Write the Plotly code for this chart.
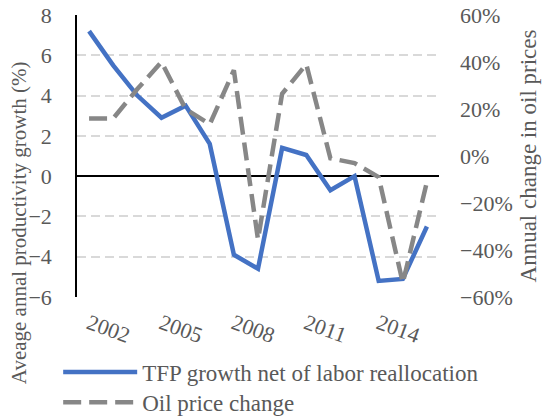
import plotly.graph_objects as go

years = list(range(2002, 2017))
tfp_growth = [7.2, 5.5, 4.0, 2.9, 3.5, 1.6, -3.9, -4.6, 1.4, 1.05, -0.7, 0.0, -5.2, -5.1, -2.5]
oil_change = [0.16, 0.16, 0.285, 0.40, 0.20, 0.135, 0.365, -0.355, 0.265, 0.39, -0.01, -0.03, -0.09, -0.54, -0.11]
tick_years = [2002, 2005, 2008, 2011, 2014]
left_ticks = [-6, -4, -2, 0, 2, 4, 6, 8]
right_ticks = [-0.6, -0.4, -0.2, 0, 0.2, 0.4, 0.6]

FONT = "Liberation Serif"
TXT = "#595959"

fig = go.Figure()
fig.add_trace(go.Scatter(
    x=years, y=tfp_growth, mode="lines", name="TFP growth net of labor reallocation",
    line=dict(color="#4472C4", width=4.5), yaxis="y", legend="legend"))
fig.add_trace(go.Scatter(
    x=years, y=oil_change, mode="lines", name="Oil price change",
    line=dict(color="#878787", width=4.5, dash="18px,8px"), yaxis="y2", legend="legend2"))

legend_common = dict(xanchor="left", font=dict(family=FONT, size=23, color=TXT),
                     itemwidth=74, bgcolor="rgba(0,0,0,0)", borderwidth=0)

fig.update_layout(
    width=548, height=419,
    margin=dict(l=77, r=109, t=15, b=122, autoexpand=False),
    plot_bgcolor="white", paper_bgcolor="white",
    font=dict(family=FONT, color=TXT, size=22),
    showlegend=True,
    legend=dict(x=-0.052, y=-0.19, yanchor="top", **legend_common),
    legend2=dict(x=-0.052, y=-0.45, yanchor="bottom", **legend_common),
    xaxis=dict(range=[2001.5, 2016.5], tickvals=tick_years, ticktext=[str(t) for t in tick_years],
               tickangle=20, showgrid=False, zeroline=False, showline=False, automargin=False,
               tickfont=dict(family=FONT, size=22, color=TXT), ticks="", ticklabelstandoff=9,
               ticklabeloverflow="allow"),
    yaxis=dict(range=[-6, 8], tickvals=left_ticks, showgrid=True, gridcolor="#d9d9d9",
               gridwidth=1.5, griddash="9px,5px", zeroline=True, zerolinecolor="black",
               zerolinewidth=1.5, showline=True, linecolor="black", linewidth=1.5, automargin=False,
               tickfont=dict(family=FONT, size=22, color=TXT), ticklabelstandoff=19,
               ticklabeloverflow="allow"),
    yaxis2=dict(range=[-0.6, 0.6], tickvals=right_ticks, tickformat=".0%", overlaying="y",
                side="right", showgrid=False, zeroline=False, showline=False, automargin=False,
                tickfont=dict(family=FONT, size=22, color=TXT), ticklabelstandoff=20,
                ticklabeloverflow="allow",
                title=dict(text="Annual change in oil prices",
                           font=dict(family=FONT, size=23, color=TXT), standoff=8)),
    annotations=[dict(text="Aveage annal productivity growth (%)", textangle=-90,
                      xref="paper", yref="paper", x=-0.160, y=0.262,
                      xanchor="center", yanchor="middle", showarrow=False,
                      font=dict(family=FONT, size=21, color=TXT))],
)

# remove the default 8px page margin so the figure fills the window exactly
fig.write_html("out.html", config={"displayModeBar": False},
               post_script="document.body.style.margin='0';")
